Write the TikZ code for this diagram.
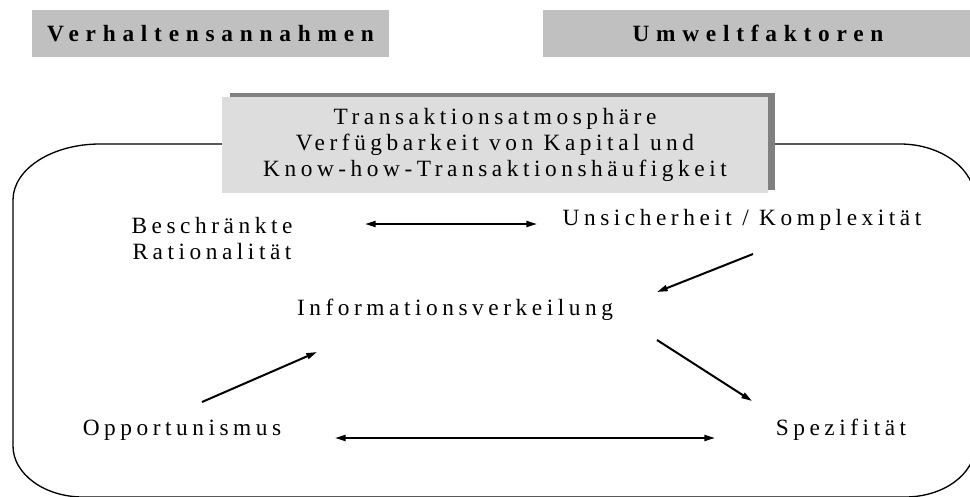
\documentclass[tikz,border=0pt]{standalone}
\usepackage{fontspec}
\setmainfont{Liberation Serif}[LetterSpace=19.5]
\newfontfamily\hdfont{Liberation Serif Bold}[LetterSpace=29]
\usetikzlibrary{arrows.meta}
\definecolor{hdrgray}{RGB}{192,192,192}
\definecolor{boxgray}{RGB}{221,221,221}
\definecolor{shadowgray}{RGB}{128,128,128}
\begin{document}
\begin{tikzpicture}[x=0.75pt,y=-0.75pt,
  font=\fontsize{17.5}{19.5}\selectfont,
  hdr/.style={fill=hdrgray, inner sep=0pt, minimum height=35.25pt, font=\fontsize{17.5}{19.5}\selectfont\hdfont},
  lbl/.style={inner sep=0pt, align=center},
  arr/.style={line width=1.5pt, -{Triangle[length=8pt,width=4.5pt]}},
  dbl/.style={line width=1.5pt, {Triangle[length=8pt,width=4.5pt]}-{Triangle[length=8pt,width=4.5pt]}},
  outline/.style={line width=1pt}]
\useasboundingbox (0,0) rectangle (970,496);
% header boxes
\node[hdr, minimum width=267.75pt] (verh) at (210.5,33.5) {Verhaltensannahmen};
\node[hdr, minimum width=322.5pt] (umwelt) at (758,33.5) {Umweltfaktoren};
% big rounded outline
\draw[outline] (100,144) -- (900,144)
  .. controls (941.4,144) and (975,169) .. (975,200) -- (975,446)
  .. controls (975,474) and (943.6,497) .. (905,497) -- (83,497)
  .. controls (44.4,497) and (13,474) .. (13,446) -- (13,200)
  .. controls (13,169) and (52,144) .. (100,144) -- cycle;
% transaction box with shadow
\fill[shadowgray] (230,93) rectangle (775,190);
\node[fill=boxgray, inner sep=0pt, minimum width=409.5pt, minimum height=72pt, align=center,
  font=\fontsize{17.5}{19.5}\selectfont] (trans) at (495,145)
  {Transaktionsatmosphäre\\Verfügbarkeit von Kapital und\\Know-how-Transaktionshäufigkeit};
% labels
\node[lbl] (besch) at (212,239) {Beschränkte\\Rationalität};
\node[lbl] (unsich) at (742,220) {Unsicherheit / Komplexität};
\node[lbl] (info) at (455,310) {Informationsverkeilung};
\node[lbl] (opp) at (182,430) {Opportunismus};
\node[lbl] (spez) at (841,430) {Spezifität};
% arrow end points
\coordinate (bu1) at (365,224);
\coordinate (bu2) at (537,224);
\coordinate (ui1) at (753,254);
\coordinate (ui2) at (657,292);
\coordinate (oi1) at (202,402);
\coordinate (oi2) at (317,352);
\coordinate (is1) at (657,340);
\coordinate (is2) at (752,401);
\coordinate (os1) at (335,438);
\coordinate (os2) at (715,438);
\draw[dbl] (bu1) -- (bu2);
\draw[arr] (ui1) -- (ui2);
\draw[arr] (oi1) -- (oi2);
\draw[arr] (is1) -- (is2);
\draw[dbl] (os1) -- (os2);
\end{tikzpicture}
\end{document}
